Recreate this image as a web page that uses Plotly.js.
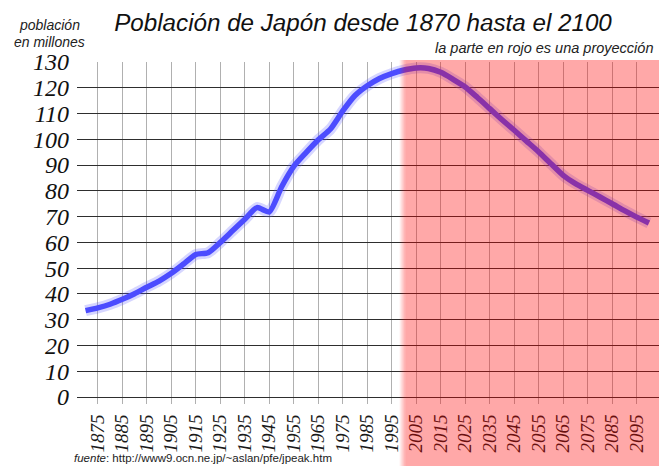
<!DOCTYPE html>
<html>
<head>
<meta charset="utf-8">
<script src="https://cdn.plot.ly/plotly-3.0.1.min.js"></script>
<style>html,body{margin:0;padding:0;background:#fff}#chart{width:659px;height:466px}</style>
</head>
<body>
<div id="chart"></div>
<script>
// Data (population of Japan, millions)
const years = [1870,1875,1880,1885,1890,1895,1900,1905,1910,1915,1920,1925,1930,1935,1940,1945,1950,1955,1960,1965,1970,1975,1980,1985,1990,1995,2000,2005,2010,2015,2020,2025,2030,2035,2040,2045,2050,2055,2060,2065,2070,2075,2080,2085,2090,2095,2100];
const population = [33.5,34.6,36.0,37.9,40.1,42.6,45.0,48.0,51.6,55.3,56.0,60.0,64.5,69.0,73.5,71.8,81.5,89.5,94.8,99.8,104.0,111.0,117.0,120.8,123.6,125.5,126.9,127.7,127.5,126.0,123.3,120.3,116.2,111.9,107.6,103.5,99.3,95.1,90.5,86.0,82.8,80.2,77.6,75.0,72.3,69.8,67.5];
const tickYears = [1875,1885,1895,1905,1915,1925,1935,1945,1955,1965,1975,1985,1995,2005,2015,2025,2035,2045,2055,2065,2075,2085,2095];
const yTicks = [0,10,20,30,40,50,60,70,80,90,100,110,120,130];
const projectionStart = 2000.5;
const projectionFadeFrom = 1998;

const W = 659, H = 466;
const M = {l: 77, r: 0, t: 61.5, b: 68.5};
const XR = [1866.5, 2104.1];
const PW = W - M.l - M.r, PH = H - M.t - M.b;
const px = x => (x - M.l) / PW;          // pixel -> paper x
const py = y => (H - M.b - y) / PH;      // pixel -> paper y
const yrToPaper = yr => (yr - XR[0]) / (XR[1] - XR[0]);

const traces = [
  {x: years, y: population, mode: 'lines', type: 'scatter', hoverinfo: 'skip',
   line: {color: 'rgba(90,90,255,0.25)', width: 11, shape: 'spline', smoothing: 0.6}},
  {x: years, y: population, mode: 'lines', type: 'scatter', hoverinfo: 'skip',
   line: {color: 'rgb(76,76,255)', width: 5.5, shape: 'spline', smoothing: 0.6}}
];

const shapes = [];
const alpha = 0.34;
const nStrips = 6;
for (let i = 0; i < nStrips; i++) {
  const a = projectionFadeFrom + (projectionStart - projectionFadeFrom) * i / nStrips;
  const b = projectionFadeFrom + (projectionStart - projectionFadeFrom) * (i + 1) / nStrips;
  shapes.push({type: 'rect', xref: 'paper', yref: 'paper', layer: 'above',
    x0: yrToPaper(a), x1: yrToPaper(b), y0: py(H + 2), y1: py(59.5),
    line: {width: 0}, fillcolor: 'rgba(255,0,0,' + (alpha * (i + 0.5) / nStrips).toFixed(3) + ')'});
}
shapes.push({type: 'rect', xref: 'paper', yref: 'paper', layer: 'above',
  x0: yrToPaper(projectionStart), x1: 1.01, y0: py(H + 2), y1: py(59.5),
  line: {width: 0}, fillcolor: 'rgba(255,0,0,' + alpha + ')'});

const sansI = {family: 'Liberation Sans, Arial, sans-serif', style: 'italic', color: '#111'};

const layout = {
  width: W, height: H,
  margin: M,
  paper_bgcolor: '#fff', plot_bgcolor: '#fff',
  showlegend: false,
  title: {text: 'Población de Japón desde 1870 hasta el 2100',
    font: Object.assign({}, sansI, {size: 24.2}),
    x: 363 / W, xanchor: 'center', xref: 'container',
    y: 1 - 23 / H, yanchor: 'middle', yref: 'container'},
  xaxis: {range: XR, tickmode: 'array', tickvals: tickYears, ticktext: tickYears.map(String),
    tickangle: -90, showgrid: true, gridcolor: '#b0b0b0', gridwidth: 1,
    ticks: 'outside', ticklen: 6, tickcolor: '#b0b0b0', tickwidth: 1,
    ticklabelstandoff: 3,
    zeroline: false, showline: false,
    tickfont: {family: 'Liberation Serif, serif', style: 'italic', size: 19, color: '#1a1a1a'}},
  yaxis: {range: [0, 130], tickmode: 'array', tickvals: yTicks, ticktext: yTicks.map(String),
    showgrid: true, gridcolor: '#2e2e2e', gridwidth: 1, zeroline: true, zerolinecolor: '#2e2e2e', zerolinewidth: 1,
    showline: false, ticks: '', ticklabelstandoff: 7,
    tickfont: {family: 'Liberation Serif, serif', style: 'italic', size: 24, color: '#111'}},
  shapes: shapes,
  annotations: [
    {text: 'la parte en rojo es una proyección', xref: 'paper', yref: 'paper',
     x: px(655), y: py(47), xanchor: 'right', yanchor: 'middle', showarrow: false,
     font: Object.assign({}, sansI, {size: 14.5, color: '#222'})},
    {text: 'población', xref: 'paper', yref: 'paper',
     x: px(49), y: py(24), xanchor: 'center', yanchor: 'middle', showarrow: false,
     font: Object.assign({}, sansI, {size: 14, color: '#222'})},
    {text: 'en millones', xref: 'paper', yref: 'paper',
     x: px(49), y: py(41), xanchor: 'center', yanchor: 'middle', showarrow: false,
     font: Object.assign({}, sansI, {size: 14, color: '#222'})},
    {text: '<i>fuente</i>: http://www9.ocn.ne.jp/~aslan/pfe/jpeak.htm', xref: 'paper', yref: 'paper',
     x: px(73), y: py(466), xanchor: 'left', yanchor: 'bottom', showarrow: false,
     borderpad: 0,
     font: {family: 'Liberation Sans, Arial, sans-serif', size: 11.5, color: '#222'}}
  ]
};

Plotly.newPlot('chart', traces, layout, {staticPlot: true, displayModeBar: false});
</script>
</body>
</html>
